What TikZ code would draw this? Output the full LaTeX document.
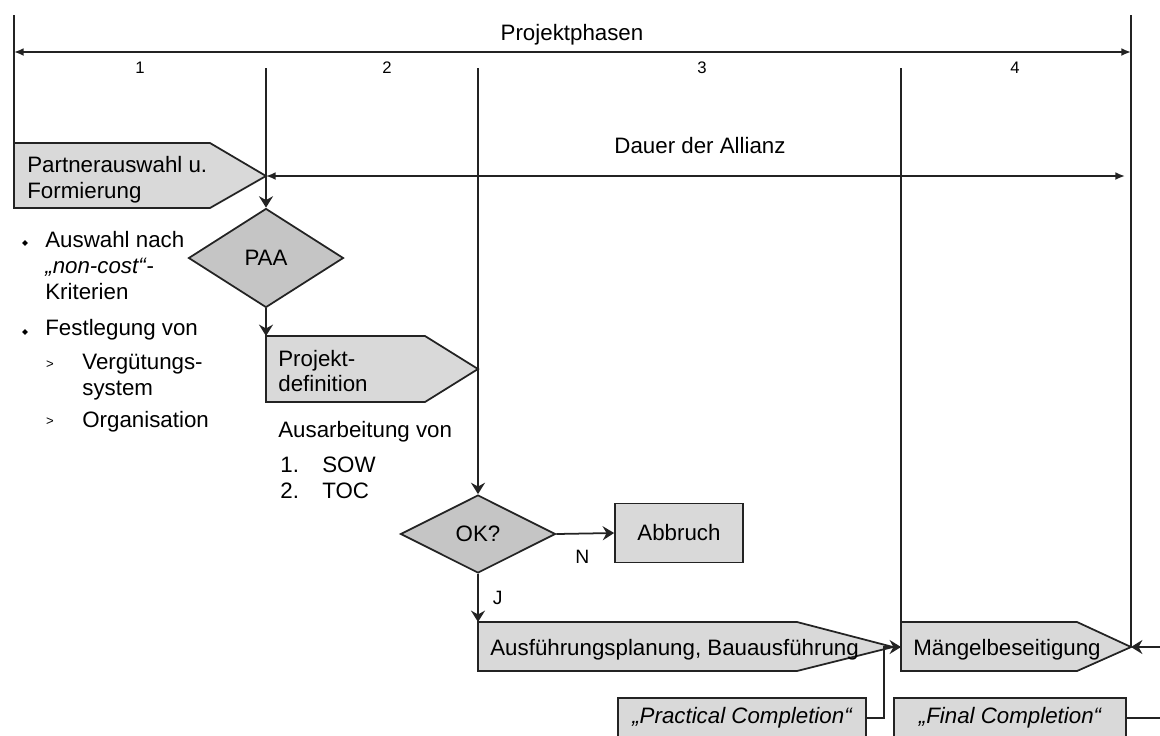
\documentclass[tikz,border=0pt]{standalone}
\usepackage{fontspec}
\setmainfont{Liberation Sans}
\usepackage{tikz}
\definecolor{ppfill}{RGB}{217,217,217}
\definecolor{ppdark}{RGB}{197,197,197}
\definecolor{ppstroke}{RGB}{35,35,35}
\usetikzlibrary{arrows.meta, positioning, shapes.geometric}
\tikzset{
    pptext/.style={inner sep=0pt, align=left, font=\fontsize{12.7}{14.7}\selectfont},
    ppnum/.style={inner sep=0pt, font=\fontsize{9.5}{11}\selectfont},
    pplabel/.style={inner sep=0pt, font=\fontsize{11}{12}\selectfont},
    ppshape/.style={draw=ppstroke, fill=ppfill, line width=1pt},
    ppbox/.style={rectangle, draw=ppstroke, fill=ppfill, line width=1pt, inner sep=0pt,
                  font=\fontsize{12.7}{14.7}\selectfont},
    ppdecision/.style={diamond, draw=ppstroke, fill=ppdark, line width=1pt, inner sep=0pt,
                  font=\fontsize{12.7}{14.7}\selectfont},
    ppframe/.style={draw=ppstroke, line width=1pt},
    pparrow/.style={-{Stealth[length=6.5pt, width=8pt, inset=2.2pt]}, draw=ppstroke, line width=1pt},
    ppdim/.style={{Latex[length=5.5pt, width=4.5pt]}-{Latex[length=5.5pt, width=4.5pt]},
                  draw=ppstroke, line width=1pt},
    ppbullet/.style={diamond, fill=black, inner sep=0pt, minimum size=0.12cm},
    ppchevron/.style={inner sep=0pt, font=\fontsize{7.5}{8}\selectfont}
}

\begin{document}
\begin{tikzpicture}[x=0.02cm, y=-0.02cm]
  \useasboundingbox (0,0) rectangle (1160,735);
  \clip (0,0) rectangle (1160,735);
  % Frame of the project phases
  \coordinate (lefttop)  at (14,15);
  \coordinate (leftbot)  at (14,143);
  \coordinate (righttop) at (1131,15);
  \coordinate (rightbot) at (1131,647);
  \draw[ppframe] (lefttop) -- (leftbot);
  \draw[ppframe] (righttop) -- (rightbot);
  \coordinate (phasenL) at (14,52);
  \coordinate (phasenR) at (1131,52);
  \draw[ppdim] (phasenL) -- (phasenR);
  \node[pptext, anchor=base] (phasen) at (572,40) {Projektphasen};
  \node[ppnum, anchor=base] (nr1) at (140,73) {1};
  \node[ppnum, anchor=base] (nr2) at (387,73) {2};
  \node[ppnum, anchor=base] (nr3) at (702,73) {3};
  \node[ppnum, anchor=base] (nr4) at (1015,73) {4};
  % Partner selection
  \filldraw[ppshape] (14,143) -- (210,143) -- (266,176) -- (210,208) -- (14,208) -- cycle;
  \coordinate (partnertip) at (266,176);
  \node[pptext, anchor=west] (partner) at (27,180) {Partnerauswahl u.\\Formierung};
  % Duration of the alliance
  \coordinate (allianzR) at (1125,176);
  \draw[ppdim] (partnertip) -- (allianzR);
  \node[pptext, anchor=base] (allianz) at (700,153) {Dauer der Allianz};
  % Decision PAA
  \node[ppdecision, minimum width=3.1cm, minimum height=1.98cm] (paa) at (266,258) {PAA};
  \coordinate (phase2top) at (266,68);
  \draw[pparrow] (phase2top) -- (paa.north);
  % Criteria list (base = last line)
  \node[ppbullet] (bul1) at (25,243) {};
  \node[pptext, anchor=base west] (auswahl) at (45,299) {Auswahl nach\\\textit{„non-cost“}-\\Kriterien};
  \node[ppbullet] (bul2) at (25,332) {};
  \node[pptext, anchor=base west] (festlegung) at (45,335) {Festlegung von};
  \node[ppchevron] (chev1) at (50,365) {>};
  \node[pptext, anchor=base west] (verguetung) at (82,395) {Vergütungs-\\system};
  \node[ppchevron] (chev2) at (50,422) {>};
  \node[pptext, anchor=base west] (organisation) at (82,427) {Organisation};
  % Project definition
  \filldraw[ppshape] (266,336) -- (425,336) -- (478,369) -- (425,402) -- (266,402) -- cycle;
  \coordinate (defnNW) at (266,336);
  \node[pptext, anchor=west] (defn) at (278,371) {Projekt-\\definition};
  \draw[pparrow] (paa.south) -- (defnNW);
  \node[pptext, anchor=base west] (ausarb) at (278,437) {Ausarbeitung von};
  \node[pptext, anchor=base west] (listnr) at (280,498) {1.\\2.};
  \node[pptext, anchor=base west] (listtxt) at (322,498) {SOW\\TOC};
  % Decision OK?
  \node[ppdecision, minimum width=3.1cm, minimum height=1.56cm] (ok) at (478,534) {OK?};
  \coordinate (phase3top) at (478,68);
  \draw[pparrow] (phase3top) -- (ok.north);
  \node[ppbox, minimum width=2.56cm, minimum height=1.18cm] (abbruch) at (679,533) {Abbruch};
  \draw[pparrow] (ok.east) -- node[pplabel, below=9pt, pos=0.45] {N} (abbruch.west);
  % Execution
  \filldraw[ppshape] (478,622) -- (797,622) -- (893,647) -- (797,671) -- (478,671) -- cycle;
  \coordinate (ausfNW) at (478,622);
  \node[pptext, anchor=base west] (ausf) at (490,655) {Ausführungsplanung, Bauausführung};
  \draw[pparrow] (ok.south) -- node[pplabel, right=8pt] {J} (ausfNW);
  % Defect removal
  \filldraw[ppshape] (901,622) -- (1077,622) -- (1131,647) -- (1077,671) -- (901,671) -- cycle;
  \coordinate (maengelNW) at (901,622);
  \coordinate (maengelW) at (901,647);
  \coordinate (maengeltip) at (1131,647);
  \node[pptext, anchor=base west] (maengel) at (913,655) {Mängelbeseitigung};
  \coordinate (phase4top) at (901,68);
  \draw[ppframe] (phase4top) -- (maengelNW);
  \coordinate (rechtsmitte) at (1160,647);
  \draw[pparrow] (rechtsmitte) -- (maengeltip);
  % Completion milestones
  \node[ppbox, minimum width=4.96cm, minimum height=0.8cm, font=\fontsize{12.7}{14.7}\selectfont\itshape]
        (practical) at (742,718) {„Practical Completion“};
  \node[ppbox, minimum width=4.64cm, minimum height=0.8cm, font=\fontsize{12.7}{14.7}\selectfont\itshape]
        (final) at (1010,718) {„Final Completion“};
  \draw[pparrow] (practical.east) -- ++(17,0) |- (maengelW);
  \coordinate (rechtsunten) at (1160,718);
  \draw[ppframe] (final.east) -- (rechtsunten);
\end{tikzpicture}
\end{document}
